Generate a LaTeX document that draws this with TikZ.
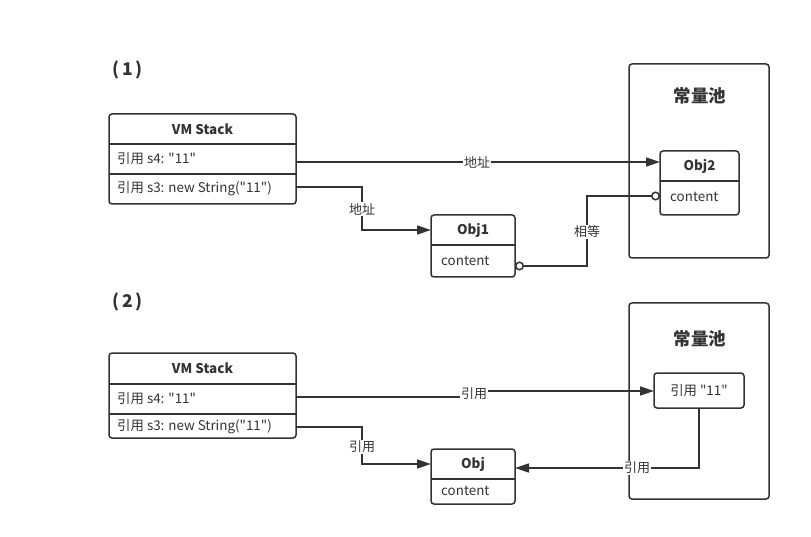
\documentclass[tikz,border=0pt]{standalone}
\usepackage{fontspec}
\setmainfont{Noto Sans CJK SC}[Ligatures=TeXOff]
\usetikzlibrary{arrows.meta}
\definecolor{ink}{HTML}{333333}
\begin{document}
\begin{tikzpicture}[x=1pt,y=-1pt,
  box/.style={draw=ink, line width=1.5pt, rounded corners=3pt, inner sep=0pt, outer sep=0pt},
  pool/.style={box},
  txt/.style={text=ink, font=\fontsize{13.4}{15}\selectfont, inner sep=0pt},
  head/.style={text=ink, font=\bfseries\fontsize{13.4}{15}\selectfont, inner sep=0pt},
  title/.style={text=ink, font=\bfseries\fontsize{17.5}{20}\selectfont, inner sep=0pt},
  lbl/.style={fill=white, text=ink, font=\fontsize{13}{14}\selectfont, inner sep=1pt},
  divider/.style={draw=ink, line width=1.5pt},
  conn/.style={draw=ink, line width=1.5pt},
  arr/.style={conn, -{Triangle[length=14pt,width=9pt]}},
  ring/.style={conn, {Circle[open,length=9pt,width=9pt,line width=1.5pt]}-{Circle[open,length=9pt,width=9pt,line width=1.5pt]}}
]
\useasboundingbox (0,0) rectangle (811,537);

% ---------- (1) ----------
\node[title] (t1) at (127.5,70) {(\hspace{3pt}1\hspace{3pt})};

\node[box, minimum width=187pt, minimum height=90pt] (vm1) at (202.5,159) {};
\draw[divider] (109,144) -- (296,144);
\draw[divider] (109,174) -- (296,174);
\node[head] (vm1h) at (202.5,129) {VM Stack};
\node[txt, anchor=west] (vm1a) at (117,159) {引用 s4: "11"};
\node[txt, anchor=west] (vm1b) at (117,189) {引用 s3: new String("11")};

\node[pool, minimum width=140pt, minimum height=194pt] (pool1) at (699,161) {};
\node[title] (pool1t) at (700,96) {常量池};

\node[box, minimum width=79pt, minimum height=64pt] (obj2) at (699.5,183) {};
\draw[divider] (660,181) -- (739,181);
\node[head] (obj2h) at (699.5,166) {Obj2};
\node[txt, anchor=west] (obj2c) at (670,197) {content};

\node[box, minimum width=84pt, minimum height=62pt] (obj1) at (473,246) {};
\draw[divider] (431,245) -- (515,245);
\node[head] (obj1h) at (473,230) {Obj1};
\node[txt, anchor=west] (obj1c) at (441,261) {content};

\draw[arr] (vm1.east |- 0,162) -- (obj2.west |- 0,162);
\node[lbl] (l1a) at (477,162) {地址};

\draw[arr] (vm1.east |- 0,187) -- (362,187) -- (362,230) -- (obj1.west |- 0,230);
\node[lbl] (l1b) at (362,209) {地址};

\draw[ring] (obj1.east |- 0,266) -- (587,266) -- (587,196) -- (obj2.west |- 0,196);
\node[lbl] (l1c) at (587,232) {相等};

% ---------- (2) ----------
\node[title] (t2) at (127.5,302) {(\hspace{3pt}2\hspace{3pt})};

\node[box, minimum width=187pt, minimum height=85pt] (vm2) at (202.5,395.5) {};
\draw[divider] (109,384) -- (296,384);
\draw[divider] (109,414) -- (296,414);
\node[head] (vm2h) at (202.5,368.5) {VM Stack};
\node[txt, anchor=west] (vm2a) at (117,399) {引用 s4: "11"};
\node[txt, anchor=west] (vm2b) at (117,427) {引用 s3: new String("11")};

\node[pool, minimum width=140pt, minimum height=196pt] (pool2) at (699,401) {};
\node[title] (pool2t) at (700,339) {常量池};

\node[box, minimum width=90pt, minimum height=35pt] (ref) at (699,390.5) {};
\node[txt] (reft) at (699,390.5) {引用 "11"};

\node[box, minimum width=84pt, minimum height=55pt] (obj) at (473,476.5) {};
\draw[divider] (431,479) -- (515,479);
\node[head] (objh) at (473,464) {Obj};
\node[txt, anchor=west] (objc) at (441,491) {content};

\draw[arr] (vm2.east |- 0,397) -- (474,397) -- (474,391) -- (ref.west |- 0,391);
\node[lbl] (l2a) at (474,394) {引用};

\draw[arr] (vm2.east |- 0,427) -- (362,427) -- (362,464) -- (obj.west |- 0,464);
\node[lbl] (l2b) at (362,447) {引用};

\draw[arr] (ref.south) -- (ref.south |- 0,468) -- (obj.east |- 0,468);
\node[lbl] (l2c) at (637,468) {引用};

\end{tikzpicture}
\end{document}
